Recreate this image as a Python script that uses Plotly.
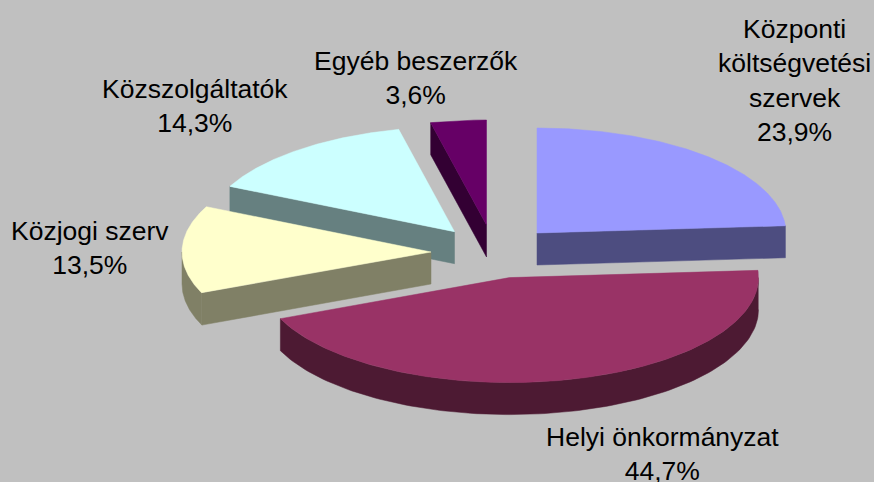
import numpy as np
import plotly.graph_objects as go

# Data
categories = ["Központi<br>költségvetési<br>szervek", "Helyi önkormányzat", "Közjogi szerv",
              "Közszolgáltatók", "Egyéb beszerzők"]
shares = [23.9, 44.7, 13.5, 14.3, 3.6]

# Style / layout
top_colors = ["#9999FF", "#993366", "#FFFFCC", "#CCFFFF", "#660066"]
side_colors = ["#4D4D80", "#4D1A33", "#808066", "#668080", "#330033"]
BG = "#C0C0C0"
W, H = 874, 482
CX, CY = 497, 252
RX, RY = 249, 105
DEPTH = 32
# per-slice explosion offset from the common centre
explode_dx = [40, 12.5, -66, -42.5, -10.5]
explode_dy = [-19, 25.6, 0, -20.3, -27]
label_x = [794.5, 662.5, 90, 195, 416]
label_y = [80.5, 454, 247.5, 105.5, 77.5]
draw_order = [4, 3, 2, 0, 1]


def pt(ax, ay, theta):
    t = np.radians(theta)
    return ax + RX * np.sin(t), ay - RY * np.cos(t)


def add_poly(fig, xs, ys, color, name):
    fig.add_trace(go.Scatter(x=list(xs), y=list(ys), mode="lines", fill="toself",
                             fillcolor=color, line=dict(color=color, width=0.5),
                             name=name, hoverinfo="name", showlegend=False))


fig = go.Figure()
total = sum(shares)
edges = np.r_[0, np.cumsum(shares)] * 360 / total
for i in draw_order:
    start, end = edges[i], edges[i + 1]
    ax, ay = CX + explode_dx[i], CY + explode_dy[i]
    name = categories[i].replace("<br>", " ")
    # visible radial cut faces: those whose edge faces the viewer
    for edge, faces_down in ((start, start > 180), (end, end < 180)):
        if faces_down:
            ex, ey = pt(ax, ay, edge)
            add_poly(fig, [ax, ex, ex, ax, ax], [ay, ey, ey + DEPTH, ay + DEPTH, ay], side_colors[i], name)
    # visible outer rim (front half of the ellipse)
    lo, hi = max(start, 90), min(end, 270)
    if lo < hi:
        th = np.linspace(lo, hi, 120)
        rx_, ry_ = pt(ax, ay, th)
        add_poly(fig, np.r_[rx_, rx_[::-1]], np.r_[ry_, ry_[::-1] + DEPTH], side_colors[i], name)
    # top face
    th = np.linspace(start, end, 200)
    tx, ty = pt(ax, ay, th)
    add_poly(fig, np.r_[ax, tx, ax], np.r_[ay, ty, ay], top_colors[i], name)

for i, v in enumerate(shares):
    fig.add_annotation(x=label_x[i], y=label_y[i], xref="x", yref="y", showarrow=False,
                       text=f"{categories[i]}<br>{v:.1f}%".replace(".", ","), align="center",
                       font=dict(family="Liberation Sans, Arial, sans-serif", size=26.5, color="black"))

fig.update_layout(width=W, height=H, autosize=False, margin=dict(l=0, r=0, t=0, b=0),
                  paper_bgcolor=BG, plot_bgcolor=BG, showlegend=False,
                  xaxis=dict(range=[0, W], visible=False, fixedrange=True),
                  yaxis=dict(range=[H, 0], visible=False, fixedrange=True))
fig.write_html("out.html", config={"displayModeBar": False},
               post_script="document.body.style.margin='0';document.body.style.overflow='hidden';")
